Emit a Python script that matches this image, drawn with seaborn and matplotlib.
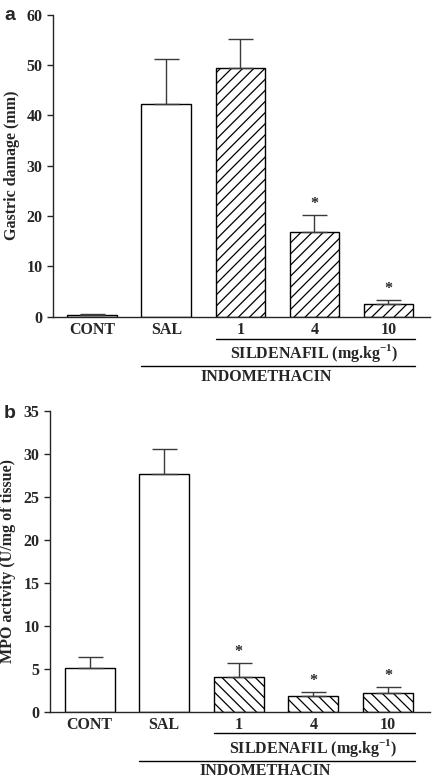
import numpy as np
import pandas as pd
import seaborn as sns
import matplotlib.pyplot as plt
from matplotlib import transforms

groups = ['CONT', 'SAL', '1', '4', '10']

# panel a - gastric damage (mm)
damage_mean = [0.4, 42.3, 49.5, 16.8, 2.6]
damage_err = [0.2, 8.9, 5.6, 3.5, 0.7]
damage_star = [False, False, False, True, True]

# panel b - MPO activity (U/mg of tissue)
mpo_mean = [5.05, 27.6, 4.05, 1.8, 2.15]
mpo_err = [1.35, 3.0, 1.65, 0.5, 0.75]
mpo_star = [False, False, True, True, True]

sns.set_style('ticks')
plt.rcParams['font.family'] = ['Liberation Serif', 'DejaVu Serif']
plt.rcParams['font.weight'] = 'bold'
plt.rcParams['axes.labelweight'] = 'bold'
plt.rcParams['mathtext.fontset'] = 'custom'
plt.rcParams['mathtext.rm'] = 'Liberation Serif:bold'
plt.rcParams['mathtext.bf'] = 'Liberation Serif:bold'
plt.rcParams['hatch.linewidth'] = 0.9
plt.rcParams['hatch.color'] = 'black'

fs = 11.5
fig = plt.figure(figsize=(4.32, 7.80), dpi=100)


def draw_panel(ax, means, errs, stars, hatch, ymax, ystep, ylabel, letter, letter_y, offsets):
  df = pd.DataFrame({'group': groups, 'value': means})
  sns.barplot(
    data=df, x='group', y='value', order=groups,
    color='white', saturation=1, width=0.67,
    edgecolor='black', linewidth=1.0, errorbar=None, ax=ax
  )
  for i, p in enumerate(ax.patches):
    if i >= 2:
      p.set_hatch(hatch)
  x = np.arange(len(groups))
  ax.errorbar(x, means, yerr=[np.zeros(len(errs)), errs], fmt='none',
              ecolor='#3a3a3a', elinewidth=1.0, capsize=9, capthick=1.0, zorder=1)
  for i in range(len(groups)):
    if stars[i]:
      ax.annotate('*', (x[i], means[i] + errs[i]), xytext=(0, 2),
                  textcoords='offset points', ha='center', va='bottom',
                  fontsize=fs, fontweight='bold')
  ax.set_xlim(-0.53, 4.56)
  ax.set_ylim(0, ymax)
  ax.set_yticks(np.arange(0, ymax + 0.1, ystep))
  ax.set_xlabel('')
  ax.set_ylabel(ylabel, fontsize=fs, fontweight='bold', labelpad=5)
  ax.tick_params(axis='y', length=4.5, width=1.0, labelsize=fs, pad=3, direction='out')
  ax.tick_params(axis='x', length=0, labelsize=fs, pad=4)
  for lab in ax.get_xticklabels() + ax.get_yticklabels():
    lab.set_fontweight('bold')
  sns.despine(ax=ax)
  for s in ['left', 'bottom']:
    ax.spines[s].set_linewidth(1.0)

  tr = transforms.blended_transform_factory(ax.transData, ax.transAxes)
  line1, text1, line2, text2 = offsets
  ax.plot([1.665, 4.36], [line1, line1], color='black', lw=1.0, transform=tr, clip_on=False)
  ax.text(3.0, text1, r'SILDENAFIL (mg.kg$^{\mathbf{-1}}$)', transform=tr,
          ha='center', va='center', fontsize=fs, fontweight='bold')
  ax.plot([0.665, 4.36], [line2, line2], color='black', lw=1.0, transform=tr, clip_on=False)
  ax.text(2.35, text2, 'INDOMETHACIN', transform=tr,
          ha='center', va='center', fontsize=fs, fontweight='bold')

  fig.text(0.022, letter_y, letter, ha='center', va='center',
           fontsize=14, fontweight='bold', family='Liberation Sans')


ax_a = fig.add_axes([0.1227, 0.594, 0.8723, 0.387])
draw_panel(ax_a, damage_mean, damage_err, damage_star, '///', 60, 10,
           'Gastric damage (mm)', 'a', 1 - 15 / 780, (-0.073, -0.119, -0.162, -0.199))

ax_b = fig.add_axes([0.1157, 0.0876, 0.8793, 0.3859])
draw_panel(ax_b, mpo_mean, mpo_err, mpo_star, '\\\\\\', 35, 5,
           'MPO activity (U/mg of tissue)', 'b', 1 - 413 / 780, (-0.072, -0.121, -0.163, -0.196))

fig.savefig('out.png', dpi=100)
